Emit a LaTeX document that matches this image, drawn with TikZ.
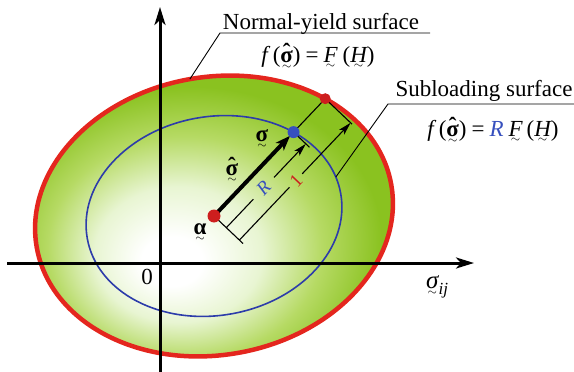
\documentclass[tikz,border=0pt]{standalone}
\usepackage{amsmath}
\usepackage{fontspec}
\setmainfont{Liberation Serif}
\usetikzlibrary{arrows.meta,calc}

\definecolor{gfull}{RGB}{138,194,32}
\definecolor{gmid}{RGB}{182,218,100}
\definecolor{gpale}{RGB}{232,245,210}
\definecolor{rline}{RGB}{228,38,30}
\definecolor{rdot}{RGB}{205,30,30}
\definecolor{bline}{RGB}{45,60,170}
\definecolor{bdot}{RGB}{55,80,190}

\pgfdeclareradialshading{glow}{\pgfpoint{-6bp}{-8bp}}{color(0bp)=(white); color(4bp)=(white); color(11bp)=(gpale); color(18bp)=(gmid); color(25bp)=(gfull); color(50bp)=(gfull)}

\newcommand\tld[1]{\leavevmode\setbox0=\hbox{#1}\vtop{\offinterlineskip\copy0\kern2.5pt\hbox to\wd0{\hss\fontsize{12}{12}\selectfont$\sim$\hss}}}
\newcommand\bsig{\hbox{\bfseries σ}}
\newcommand\hsig{\leavevmode\setbox2=\hbox{\bfseries σ}\vbox{\offinterlineskip\hbox to\wd2{\hss\bfseries ˆ\hss}\kern-0.42em\copy2}}

\tikzset{
  lbl/.style={inner sep=0pt, font=\fontsize{23}{27}\selectfont},
  axisline/.style={line width=3pt, -{Stealth[length=18pt,width=11pt,inset=5pt]}},
  thinl/.style={line width=1.1pt},
  dimarrow/.style={line width=1.1pt, -{Stealth[length=13pt,width=7pt,inset=3pt]}},
  mainarrow/.style={line width=4pt, -{Stealth[length=15pt,width=11pt,inset=4pt]}},
  leader/.style={line width=0.9pt},
  redline/.style={draw=rline, line width=4.5pt},
  blueline/.style={draw=bline, line width=1.6pt},
  dimlbl/.style={inner sep=0pt, font=\fontsize{19}{22}\selectfont, rotate=46.5},
}

\begin{document}
\begin{tikzpicture}[x=1pt,y=1pt]
\useasboundingbox (0,0) rectangle (574,-372);
\coordinate (a) at (214,-216);
\begin{scope}[shift={(a)},rotate=10]
  \shade[shading=glow] (0,0) ellipse [x radius=180pt, y radius=139pt];
  \draw[redline] (0,0) ellipse [x radius=180pt, y radius=139pt];
  \draw[blueline] (0,0) ellipse [x radius=128.7pt, y radius=99.4pt];
  \coordinate (p) at ({180*cos(43.8)},{139*sin(43.8)});
  \coordinate (s) at ({0.715*180*cos(43.8)},{0.715*139*sin(43.8)});
  \coordinate (nyfoot) at ({180*cos(90)},{139*sin(90)});
  \coordinate (slfoot) at ({128.7*cos(10)},{99.4*sin(10)});
\end{scope}

% axes
\coordinate (xs) at (7,-263);
\coordinate (xe) at (474,-263);
\coordinate (ys) at (160,-372);
\coordinate (ye) at (160,-7);
\draw[axisline] (xs) -- (xe);
\draw[axisline] (ys) -- (ye);

% construction points
\coordinate (a1) at ($(a)!40pt!-90:(s)$);
\coordinate (s1) at ($(s)!22pt!-90:(p)$);
\coordinate (p1) at ($(p)!37pt!90:(a)$);
\coordinate (ra) at ($(a)!17pt!-90:(s)$);
\coordinate (rb) at ($(s)!17pt!-90:(p)$);
\coordinate (oa) at ($(a)!35pt!-90:(s)$);
\coordinate (ob) at ($(p)!35pt!90:(a)$);

\draw[thinl] (a) -- (a1);
\draw[thinl] (s) -- (s1);
\draw[thinl] (p) -- (p1);
\draw[thinl] (s) -- (p);

\draw[thinl] (ra) -- ($(ra)!0.34!(rb)$);
\draw[dimarrow] ($(ra)!0.60!(rb)$) -- (rb);
\node[dimlbl, text=bdot, font=\fontsize{19}{22}\selectfont\itshape] (rlbl) at ($(ra)!0.47!(rb)$) {R};

\draw[thinl] (oa) -- ($(oa)!0.45!(ob)$);
\draw[dimarrow] ($(oa)!0.565!(ob)$) -- (ob);
\node[dimlbl, text=rdot] (onelbl) at ($(oa)!0.51!(ob)$) {1};

\draw[mainarrow, shorten <=3pt, shorten >=5pt] (a) -- (s);

% dots
\fill[rdot] (a) circle (6.5pt);
\fill[bdot] (s) circle (6pt);
\fill[rdot] (p) circle (5.5pt);

% labels
\node[lbl] (hatlbl) at (232,-170) {\tld{\hsig}};
\node[lbl] (siglbl) at (262,-139) {\tld{\bsig}};
\node[lbl] (alpl) at (200,-233) {\tld{\hbox{\bfseries α}}};
\node[lbl] (zero) at (147,-277) {0};
\node[lbl, anchor=base west] (sij) at (426,-288) {\tld{\fontsize{25}{27}\selectfont\itshape σ}\raisebox{-6pt}{\fontsize{17}{17}\selectfont\itshape ij}};

% leaders
\coordinate (nyel) at (220,-33);
\coordinate (nyend) at (430,-33);
\draw[leader] (nyfoot) -- (nyel) -- (nyend);
\node[lbl, anchor=base] (nyt) at (321,-29) {Normal-yield surface};
\node[lbl, anchor=base] (nyf) at (318,-62) {{\itshape f}\hspace{5pt}(\tld{\hsig})\hspace{5pt}=\hspace{5pt}\tld{\itshape F}\hspace{5pt}(\tld{\itshape H})};

\coordinate (slel) at (388,-104);
\coordinate (slend) at (574,-104);
\draw[leader] (slfoot) -- (slel) -- (slend);
\node[lbl, anchor=base] (slt) at (484,-96) {Subloading surface};
\node[lbl, anchor=base] (slf) at (493,-136) {{\itshape f}\hspace{5pt}(\tld{\hsig})\hspace{5pt}=\hspace{5pt}{\color{bdot}\itshape R}\hspace{5pt}\tld{\itshape F}\hspace{4pt}(\tld{\itshape H})};
\end{tikzpicture}
\end{document}
